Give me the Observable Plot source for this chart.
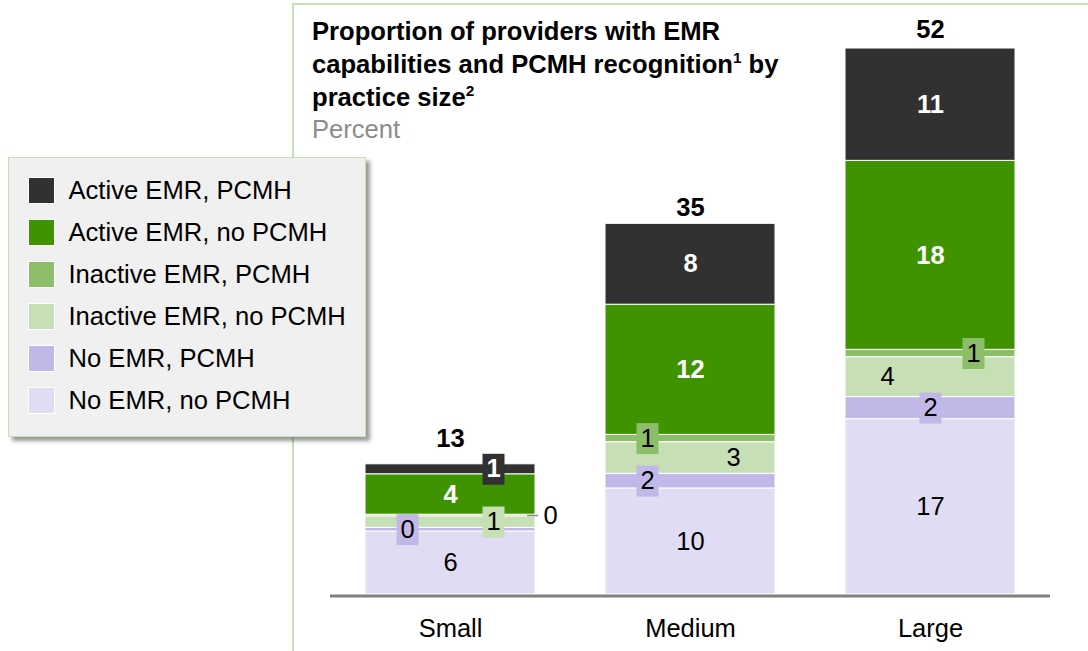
<!DOCTYPE html>
<html><head><meta charset="utf-8">
<script src="https://cdn.jsdelivr.net/npm/d3@7"></script>
<script src="https://cdn.jsdelivr.net/npm/@observablehq/plot@0.6"></script>
<style>
html,body{margin:0;padding:0;background:#fff;}
#wrap{position:relative;width:1088px;height:651px;overflow:hidden;font-family:"Liberation Sans",Arial,Helvetica,sans-serif;}
#frame{position:absolute;left:292px;top:3px;right:-10px;bottom:-10px;border-left:2px solid #c6e0b5;border-top:2px solid #c6e0b5;}
#chart{position:absolute;left:0;top:0;}
#title{position:absolute;left:312px;top:15px;font-size:25.6px;font-weight:bold;line-height:33px;color:#000;white-space:nowrap;}
#title sup{font-size:0.6em;line-height:0;vertical-align:0.65em;}
#sub{position:absolute;left:312px;top:114px;font-size:25.6px;line-height:30px;color:#8c8c8c;}
#legend{position:absolute;left:8px;top:157px;width:358px;height:280px;box-sizing:border-box;background:#f0f0f0;border:1.5px solid #c6e0b5;box-shadow:4px 4px 4px rgba(0,0,0,0.4);padding:11px 0 0 18.5px;}
.row{display:flex;align-items:center;height:42px;font-size:25.6px;color:#000;white-space:nowrap;}
.sw{width:27px;height:27px;margin-right:14px;box-sizing:border-box;border:1px solid #fff;flex:none;}
</style>
</head><body>
<div id="wrap">
  <div id="frame"></div>
  <div id="chart"></div>
  <div id="title">Proportion of providers with EMR<br>capabilities and PCMH recognition<sup>1</sup> by<br>practice size<sup>2</sup></div>
  <div id="sub">Percent</div>
  <div id="legend"></div>
</div>
<script>
// ---- data ----
const categories = ["Small", "Medium", "Large"];
// series, bottom to top of each bar
const series = ["No EMR, no PCMH", "No EMR, PCMH", "Inactive EMR, no PCMH", "Inactive EMR, PCMH", "Active EMR, no PCMH", "Active EMR, PCMH"];
const noEmrNoPcmh    = [6.0, 10.1, 16.7];
const noEmrPcmh      = [0.35, 1.4, 2.1];
const inactiveNoPcmh = [1.1, 3.0, 3.8];
const inactivePcmh   = [0.15, 0.7, 0.7];
const activeNoPcmh   = [3.85, 12.4, 18.0];
const activePcmh     = [0.95, 7.7, 10.7];
// labels as printed
const noEmrNoPcmhLabel    = ["6", "10", "17"];
const noEmrPcmhLabel      = ["0", "2", "2"];
const inactiveNoPcmhLabel = ["1", "3", "4"];
const inactivePcmhLabel   = ["0", "1", "1"];
const activeNoPcmhLabel   = ["4", "12", "18"];
const activePcmhLabel     = ["1", "8", "11"];
const totals = [13, 35, 52];

// ---- layout (not data) ----
const colors = ["#e0dcf3", "#c2b8e8", "#c6dfb4", "#8cbd68", "#409300", "#313131"];
const placement = [
  ["c", "c", "c"],
  ["l", "l", "c"],
  ["r", "r", "l"],
  ["out", "l", "r"],
  ["c", "c", "c"],
  ["r", "c", "c"]
];
const shift = {l: -43, c: 0, r: 43};
const fs = 25.5;

const values = [noEmrNoPcmh, noEmrPcmh, inactiveNoPcmh, inactivePcmh, activeNoPcmh, activePcmh];
const labels = [noEmrNoPcmhLabel, noEmrPcmhLabel, inactiveNoPcmhLabel, inactivePcmhLabel, activeNoPcmhLabel, activePcmhLabel];

const rows = [];
categories.forEach((cat, i) => {
  let acc = 0;
  series.forEach((s, k) => {
    const v = values[k][i];
    const place = placement[k][i];
    rows.push({cat, series: s, value: v, y1: acc, y2: acc + v, mid: acc + v / 2,
      label: labels[k][i], place, white: s.startsWith("Active"),
      boxed: place !== "out" && v < 2.95});
    acc += v;
  });
});
const totalRows = categories.map((cat, i) => ({cat, total: totals[i], text: String(totals[i])}));

const boxSymbol = {draw(ctx) { ctx.rect(-11, -15.5, 22, 31); }};

const marks = [
  Plot.barY(rows, {x: "cat", y1: "y1", y2: "y2", fill: "series", stroke: "white", strokeWidth: 1}),
  Plot.ruleY([0], {stroke: "#808080", strokeWidth: 3, dy: 1.5})
];
for (const p of ["l", "c", "r"]) {
  const b = rows.filter(d => d.boxed && d.place === p);
  marks.push(Plot.dot(b, {x: "cat", y: "mid", symbol: boxSymbol, fill: "series", dx: shift[p]}));
}
for (const p of ["l", "c", "r"]) {
  for (const w of [true, false]) {
    const t = rows.filter(d => d.place === p && d.white === w);
    marks.push(Plot.text(t, {x: "cat", y: "mid", text: "label", dx: shift[p],
      fill: w ? "white" : "black", fontWeight: w ? "bold" : "normal", fontSize: fs}));
  }
}
const outRows = rows.filter(d => d.place === "out");
marks.push(Plot.tickY(outRows, {x: "cat", y: "mid", stroke: "#8c8c8c", strokeWidth: 1.5, insetLeft: 159, dx: 3}));
marks.push(Plot.text(outRows, {x: "cat", y: "mid", text: "label", dx: 93, textAnchor: "start", fill: "black", fontSize: fs}));
marks.push(Plot.text(totalRows, {x: "cat", y: "total", text: "text", dy: -19, fontWeight: "bold", fill: "black", fontSize: fs}));

const chart = Plot.plot({
  width: 1088,
  height: 651,
  marginTop: 48,
  marginBottom: 57,
  marginLeft: 330,
  marginRight: 38,
  style: {fontFamily: '"Liberation Sans", Arial, sans-serif', fontSize: fs + "px", color: "black", background: "transparent", overflow: "visible"},
  x: {domain: categories, paddingInner: 0.2917, paddingOuter: 0.1458, tickSize: 0, tickPadding: 24, label: null},
  y: {domain: [0, 52], axis: null},
  color: {domain: series, range: colors},
  marks
});
document.getElementById("chart").appendChild(chart);

// legend, top to bottom
const legend = document.getElementById("legend");
for (let k = series.length - 1; k >= 0; k--) {
  const row = document.createElement("div");
  row.className = "row";
  const sw = document.createElement("span");
  sw.className = "sw";
  sw.style.background = colors[k];
  const tx = document.createElement("span");
  tx.textContent = series[k];
  row.appendChild(sw);
  row.appendChild(tx);
  legend.appendChild(row);
}
</script>
</body></html>
